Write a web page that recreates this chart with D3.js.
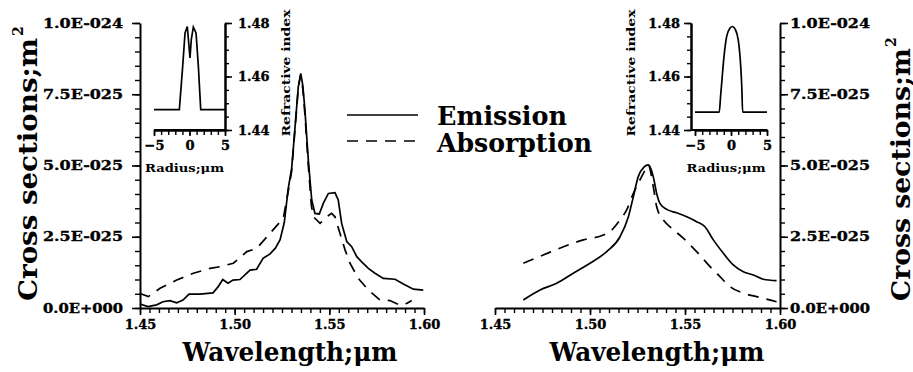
<!DOCTYPE html>
<html>
<head>
<meta charset="utf-8">
<script src="https://cdn.jsdelivr.net/npm/d3@7"></script>
<style>
  body { margin: 0; background: #fff; }
  svg { display: block; }
  text { font-family: "DejaVu Serif", serif; font-weight: bold; fill: #000; }
  .tick text { stroke: #000; stroke-width: 0.35; }
</style>
</head>
<body>
<div id="chart"></div>
<script>
// ---- data (cross sections in units of 1E-025 m^2) ----
var wlTicks = [1.45, 1.50, 1.55, 1.60]
var csTicks = [0, 2.5, 5, 7.5, 10]
var csTickLabels = ["0.0E+000", "2.5E-025", "5.0E-025", "7.5E-025", "1.0E-024"]
var radiusTicks = [-5, 0, 5]
var indexTicks = [1.44, 1.46, 1.48]

// left fiber
var emL_wl = [1.4500, 1.4542, 1.4588, 1.4621, 1.4658, 1.4694, 1.4727, 1.4759, 1.4817, 1.4886,
  1.4912, 1.4937, 1.4965, 1.4991, 1.5028, 1.5081, 1.5116, 1.5150, 1.5187, 1.5215,
  1.5240, 1.5262, 1.5283, 1.5301, 1.5319, 1.5336, 1.5349, 1.5360, 1.5371, 1.5389,
  1.5407, 1.5424, 1.5447, 1.5468, 1.5495, 1.5530, 1.5547, 1.5565, 1.5592, 1.5618,
  1.5645, 1.5671, 1.5706, 1.5741, 1.5785, 1.5847, 1.5891, 1.5944, 1.5996]
var emL_cs = [0.14, 0.05, 0.11, 0.22, 0.26, 0.18, 0.28, 0.49, 0.49, 0.53,
  0.74, 1.00, 0.87, 0.98, 1.00, 1.33, 1.36, 1.74, 1.90, 2.10,
  2.40, 3.00, 4.20, 4.90, 6.36, 7.76, 8.23, 7.80, 6.95, 5.19,
  3.79, 3.32, 3.30, 3.67, 4.02, 4.05, 3.79, 2.97, 2.33, 2.15,
  1.80, 1.62, 1.39, 1.22, 1.04, 1.01, 0.84, 0.66, 0.63]

var abL_wl = [1.4500, 1.4544, 1.4606, 1.4694, 1.4782, 1.4870, 1.4923, 1.4993, 1.5064, 1.5116,
  1.5187, 1.5257, 1.5283, 1.5301, 1.5319, 1.5336, 1.5347, 1.5360, 1.5371, 1.5389,
  1.5405, 1.5416, 1.5451, 1.5486, 1.5512, 1.5530, 1.5556, 1.5583, 1.5609, 1.5653,
  1.5706, 1.5768, 1.5820, 1.5873, 1.5909, 1.5935]
var abL_cs = [0.51, 0.40, 0.69, 0.98, 1.22, 1.39, 1.45, 1.57, 1.98, 2.09,
  2.62, 3.15, 4.10, 4.80, 6.30, 7.70, 8.15, 7.70, 6.80, 5.00,
  3.60, 3.20, 2.97, 3.20, 3.32, 3.20, 2.62, 2.04, 1.57, 1.04,
  0.63, 0.28, 0.26, 0.10, 0.16, 0.26]

// right fiber
var emR_wl = [1.4649, 1.4737, 1.4825, 1.4912, 1.5000, 1.5088, 1.5158, 1.5202, 1.5228, 1.5254,
  1.5285, 1.5307, 1.5333, 1.5351, 1.5368, 1.5404, 1.5456, 1.5509, 1.5561, 1.5605,
  1.5649, 1.5702, 1.5754, 1.5807, 1.5860, 1.5912, 1.5982]
var emR_cs = [0.28, 0.63, 0.87, 1.22, 1.57, 1.98, 2.50, 3.20, 3.90, 4.61,
  4.95, 5.02, 4.61, 4.02, 3.67, 3.46, 3.34, 3.20, 3.03, 2.85,
  2.39, 1.92, 1.51, 1.27, 1.16, 1.01, 0.96]

var abR_wl = [1.4649, 1.4754, 1.4860, 1.4965, 1.5070, 1.5105, 1.5158, 1.5193, 1.5228, 1.5260,
  1.5290, 1.5307, 1.5333, 1.5351, 1.5386, 1.5421, 1.5491, 1.5561, 1.5632, 1.5684,
  1.5737, 1.5807, 1.5877, 1.5982]
var abR_cs = [1.57, 1.86, 2.15, 2.39, 2.56, 2.68, 3.09, 3.44, 4.02, 4.45,
  4.84, 5.02, 4.26, 3.55, 3.09, 2.85, 2.45, 1.98, 1.45, 1.10,
  0.75, 0.52, 0.40, 0.22]

// index profiles (insets)
var profL_r = [-5, -1.43, -0.96, -0.63, -0.31, -0.03, 0.07, 0.25, 0.54, 0.92, 1.25, 1.58, 5]
var profL_n = [1.4476, 1.4476, 1.4638, 1.4763, 1.4787, 1.4700, 1.4669, 1.4738, 1.4785, 1.4763, 1.4638, 1.4476, 1.4476]
var profR_r = [-5, -1.63, -1.45, -1.29, -0.97, -0.60, -0.14, 0.20, 0.56, 1.00, 1.35, 1.50, 1.62, 5]
var profR_n = [1.4467, 1.4467, 1.4525, 1.4576, 1.4675, 1.4750, 1.4781, 1.4787, 1.4778, 1.4738, 1.4638, 1.4560, 1.4467, 1.4467]

var svg = d3.select("#chart")
  .append("svg")
  .attr("width", 913)
  .attr("height", 372)

svg.append("rect").attr("width", 913).attr("height", 372).attr("fill", "#fff")

// style an axis group: thick domain, ticks, font
function styleAxis(g, size) {
  g.attr("font-size", size).attr("font-family", null)
  g.select(".domain").attr("stroke-width", 2)
  g.selectAll(".tick line").attr("stroke-width", 1.6)
  return g
}

function zip(a, b) {
  return a.map(function(v, i) { return [v, b[i]] })
}

function drawCurve(x, y, xs, ys, dashed, curve) {
  var line = d3.line()
    .x(function(d) { return x(d[0]) })
    .y(function(d) { return y(d[1]) })
    .curve(curve || d3.curveLinear)
  svg.append("path")
    .datum(zip(xs, ys))
    .attr("d", line)
    .attr("fill", "none")
    .attr("stroke", "#000")
    .attr("stroke-width", 1.7)
    .attr("stroke-dasharray", dashed ? "11,8" : null)
}

// main panel: side = "left" or "right"
function mainPanel(x0, x1, side) {
  var x = d3.scaleLinear().domain([1.45, 1.60]).range([x0, x1])
  var y = d3.scaleLinear().domain([0, 10]).range([308, 23])

  // x axis
  svg.append("g")
    .attr("transform", "translate(0,308)")
    .call(d3.axisBottom(x).tickValues(x.ticks(30)).tickSize(5).tickSizeOuter(0).tickFormat(""))
    .call(function(g) { g.select(".domain").remove(); g.selectAll(".tick line").attr("stroke-width", 1.4) })
  var xg = svg.append("g")
    .attr("transform", "translate(0,308)")
    .call(d3.axisBottom(x).tickValues(wlTicks).tickSize(7).tickSizeOuter(0).tickPadding(5).tickFormat(d3.format(".2f")))
  styleAxis(xg, 13)

  // y axis
  var yPos = side == "left" ? x0 : x1
  var axMinor = side == "left" ? d3.axisLeft(y) : d3.axisRight(y)
  var axMajor = side == "left" ? d3.axisLeft(y) : d3.axisRight(y)
  svg.append("g")
    .attr("transform", "translate(" + yPos + ",0)")
    .call(axMinor.tickValues(y.ticks(20)).tickSize(5).tickSizeOuter(0).tickFormat(""))
    .call(function(g) { g.select(".domain").remove(); g.selectAll(".tick line").attr("stroke-width", 1.4) })
  var yg = svg.append("g")
    .attr("transform", "translate(" + yPos + ",0)")
    .call(axMajor.tickValues(csTicks).tickSize(8).tickSizeOuter(0)
      .tickPadding(side == "left" ? 9 : 2)
      .tickFormat(function(d, i) { return csTickLabels[i] }))
  styleAxis(yg, 13)
  yg.selectAll(".tick text").attr("textLength", 80).attr("lengthAdjust", "spacingAndGlyphs")

  // x title
  svg.append("text")
    .attr("x", side == "left" ? 290 : 657)
    .attr("y", 361)
    .attr("text-anchor", "middle")
    .attr("font-size", 26)
    .attr("textLength", 215)
    .attr("lengthAdjust", "spacingAndGlyphs")
    .text("Wavelength;\u03bcm")

  // y title (rotated, reading upward)
  var bx = side == "left" ? 37 : 910
  svg.append("text")
    .attr("transform", "translate(" + bx + ",301) rotate(-90)")
    .attr("font-size", 26)
    .attr("textLength", side == "left" ? 263 : 253)
    .attr("lengthAdjust", "spacingAndGlyphs")
    .text("Cross sections;m")
  svg.append("text")
    .attr("transform", "translate(" + (bx - 14) + "," + (side == "left" ? 36 : 47) + ") rotate(-90)")
    .attr("font-size", 14)
    .text("2")

  return {x: x, y: y}
}

// inset with refractive index profile
function inset(r0, r1, axisX, side, rs, ns) {
  var r = d3.scaleLinear().domain([-5, 5]).range([r0, r1])
  var n = d3.scaleLinear().domain([1.44, 1.48]).range([130, 23])

  // radius axis
  svg.append("g")
    .attr("transform", "translate(0,130)")
    .call(d3.axisBottom(r).tickValues(r.ticks(10)).tickSize(5).tickSizeOuter(0).tickFormat(""))
    .call(function(g) { g.selectAll(".tick line").attr("stroke-width", 1.4); g.select(".domain").attr("stroke-width", 2) })
  var rg = svg.append("g")
    .attr("transform", "translate(0,130)")
    .call(d3.axisBottom(r).tickValues(radiusTicks).tickSize(6).tickSizeOuter(0).tickPadding(5)
      .tickFormat(function(d) { return d < 0 ? "\u2212" + Math.abs(d) : d }))
  styleAxis(rg, 13)
  svg.append("line")
    .attr("x1", Math.min(axisX, r0)).attr("x2", Math.max(axisX, r1))
    .attr("y1", 130).attr("y2", 130)
    .attr("stroke", "#000").attr("stroke-width", 2)

  // index axis
  var minor = side == "right" ? d3.axisRight(n) : d3.axisLeft(n)
  var major = side == "right" ? d3.axisRight(n) : d3.axisLeft(n)
  svg.append("g")
    .attr("transform", "translate(" + axisX + ",0)")
    .call(minor.tickValues(n.ticks(8)).tickSize(4).tickSizeOuter(0).tickFormat(""))
    .call(function(g) { g.selectAll(".tick line").attr("stroke-width", 1.4); g.select(".domain").attr("stroke-width", 2) })
  var ng = svg.append("g")
    .attr("transform", "translate(" + axisX + ",0)")
    .call(major.tickValues(indexTicks).tickSize(7).tickSizeOuter(0).tickPadding(side == "right" ? 6 : 4)
      .tickFormat(d3.format(".2f")))
  styleAxis(ng, 13)

  svg.append("text")
    .attr("x", (r0 + r1) / 2 - 5)
    .attr("y", 172)
    .attr("text-anchor", "middle")
    .attr("font-size", 11)
    .attr("textLength", 79)
    .attr("lengthAdjust", "spacingAndGlyphs")
    .text("Radius;\u03bcm")

  var lx = side == "right" ? 290 : 635
  svg.append("text")
    .attr("transform", "translate(" + lx + ",73) rotate(-90)")
    .attr("text-anchor", "middle")
    .attr("font-size", 11)
    .attr("textLength", 127)
    .attr("lengthAdjust", "spacingAndGlyphs")
    .text("Refractive index")

  drawCurve(r, n, rs, ns, false, side == "right" ? d3.curveLinear : d3.curveMonotoneX)
}

// left panel
var pL = mainPanel(140, 424, "left")
drawCurve(pL.x, pL.y, abL_wl, abL_cs, true)
drawCurve(pL.x, pL.y, emL_wl, emL_cs, false)
inset(154, 225, 225, "right", profL_r, profL_n)

// right panel
var pR = mainPanel(495, 780, "right")
drawCurve(pR.x, pR.y, abR_wl, abR_cs, true, d3.curveMonotoneX)
drawCurve(pR.x, pR.y, emR_wl, emR_cs, false, d3.curveMonotoneX)
inset(695, 767, 691, "left", profR_r, profR_n)

// legend
var legend = svg.append("g")
legend.append("line").attr("x1", 347).attr("x2", 418).attr("y1", 115).attr("y2", 115)
  .attr("stroke", "#000").attr("stroke-width", 1.7)
legend.append("line").attr("x1", 347).attr("x2", 418).attr("y1", 141).attr("y2", 141)
  .attr("stroke", "#000").attr("stroke-width", 1.7).attr("stroke-dasharray", "11,8")
legend.append("text").attr("x", 437).attr("y", 125).attr("font-size", 26)
  .attr("textLength", 130).attr("lengthAdjust", "spacingAndGlyphs").text("Emission")
legend.append("text").attr("x", 437).attr("y", 152).attr("font-size", 26)
  .attr("textLength", 155).attr("lengthAdjust", "spacingAndGlyphs").text("Absorption")
</script>
</body>
</html>
